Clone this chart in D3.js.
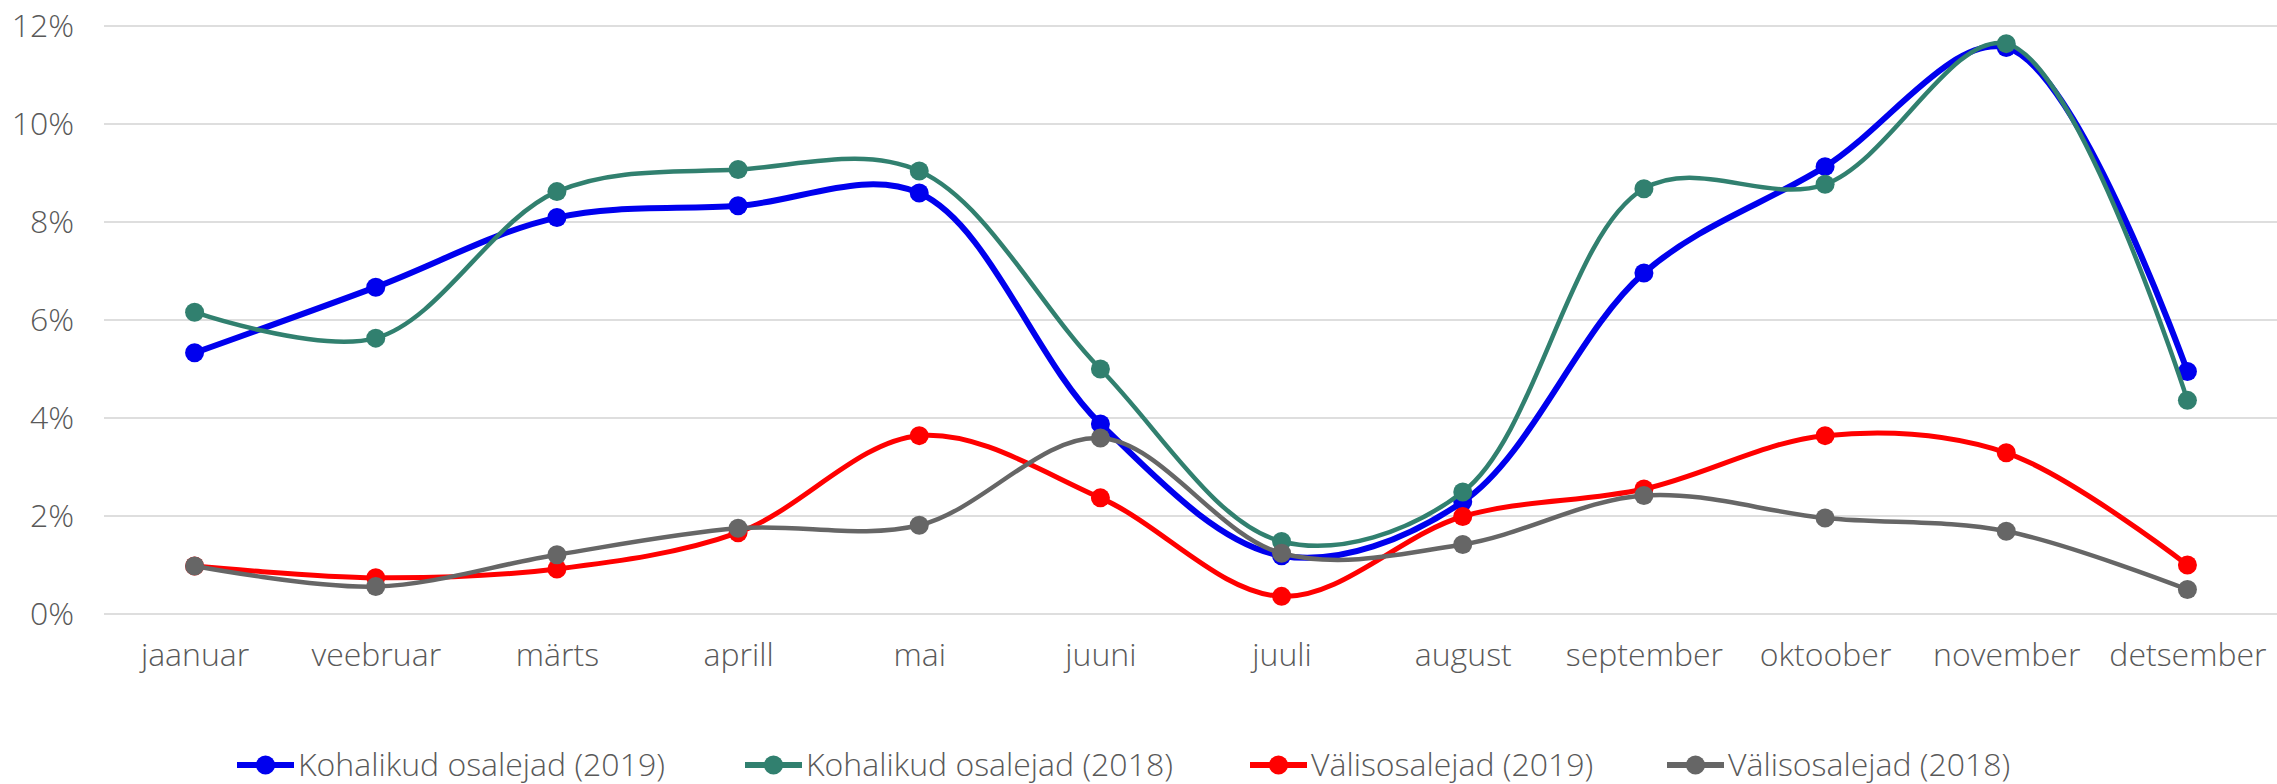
<!DOCTYPE html>
<html>
<head>
<meta charset="utf-8">
<script src="https://cdn.jsdelivr.net/npm/d3@7"></script>
<style>
  body { margin: 0; background: #fff; }
  text { font-family: 'Open Sans', sans-serif; font-weight: 300; fill: #595959; }
</style>
</head>
<body>
<svg id="chart" width="2277" height="784"></svg>
<script>
const months = ['jaanuar', 'veebruar', 'märts', 'aprill', 'mai', 'juuni', 'juuli', 'august', 'september', 'oktoober', 'november', 'detsember'];
const yTicks = [0, 2, 4, 6, 8, 10, 12];

const kohalikud2019 = [5.33, 6.67, 8.09, 8.33, 8.59, 3.88, 1.19, 2.29, 6.96, 9.13, 11.56, 4.95];
const kohalikud2018 = [6.16, 5.63, 8.62, 9.07, 9.04, 5.0, 1.48, 2.49, 8.68, 8.77, 11.64, 4.36];
const valis2019 = [0.98, 0.74, 0.92, 1.66, 3.64, 2.37, 0.36, 1.99, 2.55, 3.64, 3.29, 1.0];
const valis2018 = [0.98, 0.56, 1.21, 1.75, 1.81, 3.59, 1.24, 1.42, 2.42, 1.96, 1.69, 0.5];

const seriesNames = ['Kohalikud osalejad (2019)', 'Kohalikud osalejad (2018)', 'Välisosalejad (2019)', 'Välisosalejad (2018)'];
const seriesColors = ['#0000ee', '#31806f', '#ff0000', '#666666'];
const seriesWidths = [6, 4.5, 5, 4.5];
const seriesValues = [kohalikud2019, kohalikud2018, valis2019, valis2018];

const svg = d3.select('#chart');

const x = d3.scalePoint()
  .domain(months)
  .range([104, 2278])
  .padding(0.5);

const y = d3.scaleLinear()
  .domain([0, 12])
  .range([614, 26]);

// gridlines
svg.append('g')
  .selectAll('line')
  .data(yTicks)
  .join('line')
  .attr('x1', 104)
  .attr('x2', 2277)
  .attr('y1', d => y(d))
  .attr('y2', d => y(d))
  .style('stroke', '#dedede')
  .style('stroke-width', 2);

const yAxis = svg.append('g')
  .attr('transform', 'translate(104,0)')
  .call(d3.axisLeft(y).tickValues(yTicks).tickSize(0).tickPadding(30).tickFormat(d => d + '%'));
yAxis.select('.domain').remove();
yAxis.selectAll('text').style('font-size', '32px').style('font-family', "'Open Sans', sans-serif").attr('fill', '#595959');

const xAxis = svg.append('g')
  .attr('transform', 'translate(0,614)')
  .call(d3.axisBottom(x).tickSize(0).tickPadding(29));
xAxis.select('.domain').remove();
xAxis.selectAll('text').style('font-size', '32px').style('font-family', "'Open Sans', sans-serif").attr('fill', '#595959');

const line = d3.line()
  .x((d, i) => x(months[i]))
  .y(d => y(d))
  .curve(d3.curveCatmullRom.alpha(0.5));

seriesValues.forEach((vals, s) => {
  const g = svg.append('g').attr('class', 'series');
  g.append('path')
    .datum(vals)
    .attr('d', line)
    .style('fill', 'none')
    .style('stroke', seriesColors[s])
    .style('stroke-width', seriesWidths[s]);
  g.selectAll('circle')
    .data(vals)
    .join('circle')
    .attr('cx', (d, i) => x(months[i]))
    .attr('cy', d => y(d))
    .attr('r', 9.5)
    .style('fill', seriesColors[s]);
});

// legend
const legendX = [237, 745, 1250, 1667];
const legend = svg.append('g').attr('transform', 'translate(0,765)');
seriesNames.forEach((name, s) => {
  const item = legend.append('g').attr('transform', `translate(${legendX[s]},0)`);
  item.append('line')
    .attr('x1', 0).attr('x2', 57)
    .style('stroke', seriesColors[s])
    .style('stroke-width', 6);
  item.append('circle')
    .attr('cx', 28.5)
    .attr('r', 9.5)
    .style('fill', seriesColors[s]);
  item.append('text')
    .attr('x', 61)
    .attr('dy', '0.35em')
    .style('font-size', '32px')
    .text(name);
});
</script>
</body>
</html>
